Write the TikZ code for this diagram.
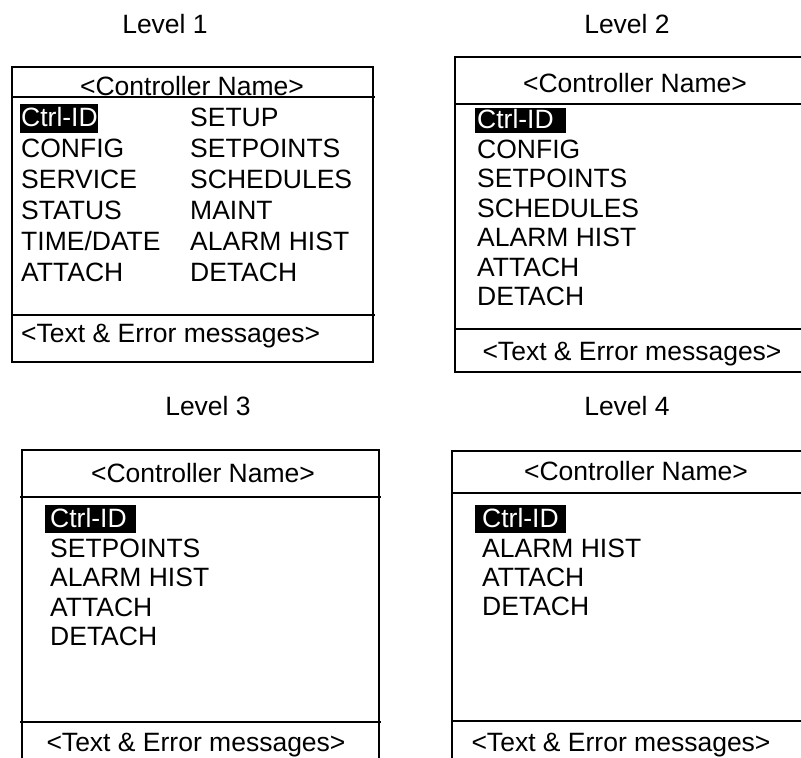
\documentclass[tikz,border=0pt]{standalone}
\usepackage{fontspec}
\setmainfont{Liberation Sans}
\begin{document}
\begin{tikzpicture}[x=1pt,y=-1pt,
  txt/.style={inner sep=0pt,anchor=base west,font=\fontsize{26.5}{30}\selectfont},
  ctxt/.style={inner sep=0pt,anchor=base,font=\fontsize{26.5}{30}\selectfont},
  hl/.style={txt,text=white},
  frame/.style={line width=2.2pt,line cap=rect},
  sep/.style={line width=1.5pt},
  hlbox/.style={fill=black,draw=none}]
\useasboundingbox (0,0) rectangle (801,758);

% ---------------- Level labels
\node[ctxt] (l1) at (165,33) {Level 1};
\node[ctxt] (l2) at (627,33) {Level 2};
\node[ctxt] (l3) at (208,415) {Level 3};
\node[ctxt] (l4) at (627,415) {Level 4};

% ---------------- Box 1
\draw[frame] (12,67) rectangle (373,362);
\draw[sep] (12,97) -- (375,97);
\draw[sep] (12,315) -- (375,315);
\node[ctxt] (b1h) at (192,95) {<Controller Name>};
\fill[hlbox] (20,104) rectangle (98,133);
\node[hl]  (b1a) at (21,126.5) {Ctrl-ID};
\node[txt] (b1b) at (21,157.5) {CONFIG};
\node[txt] (b1c) at (21,188.5) {SERVICE};
\node[txt] (b1d) at (21,219.5) {STATUS};
\node[txt] (b1e) at (21,250.5) {TIME/DATE};
\node[txt] (b1f) at (21,281.5) {ATTACH};
\node[txt] (b1g) at (190,126.5) {SETUP};
\node[txt] (b1h2) at (190,157.5) {SETPOINTS};
\node[txt] (b1i) at (190,188.5) {SCHEDULES};
\node[txt] (b1j) at (190,219.5) {MAINT};
\node[txt] (b1k) at (190,250.5) {ALARM HIST};
\node[txt] (b1l) at (190,281.5) {DETACH};
\node[txt] (b1m) at (21,342) {<Text \& Error messages>};

% ---------------- Box 2
\draw[frame] (801,57) -- (455,57) -- (455,372) -- (801,372);
\draw[sep] (455,104) -- (801,104);
\draw[sep] (455,329) -- (801,329);
\node[ctxt] (b2h) at (635,92) {<Controller Name>};
\fill[hlbox] (475,108) rectangle (566,133);
\node[hl]  (b2a) at (477,128) {Ctrl-ID};
\node[txt] (b2b) at (477,158) {CONFIG};
\node[txt] (b2c) at (477,187.5) {SETPOINTS};
\node[txt] (b2d) at (477,217) {SCHEDULES};
\node[txt] (b2e) at (477,246.5) {ALARM HIST};
\node[txt] (b2f) at (477,276) {ATTACH};
\node[txt] (b2g) at (477,305) {DETACH};
\node[ctxt] (b2m) at (632,360) {<Text \& Error messages>};

% ---------------- Box 3
\draw[frame] (22,758) -- (22,450) -- (379,450) -- (379,758);
\draw[sep] (20,497) -- (381,497);
\draw[sep] (20,722) -- (381,722);
\node[ctxt] (b3h) at (203,482) {<Controller Name>};
\fill[hlbox] (45,505) rectangle (136,533);
\node[hl]  (b3a) at (50,527) {Ctrl-ID};
\node[txt] (b3b) at (50,557) {SETPOINTS};
\node[txt] (b3c) at (50,586.5) {ALARM HIST};
\node[txt] (b3d) at (50,616) {ATTACH};
\node[txt] (b3e) at (50,645) {DETACH};
\node[ctxt] (b3m) at (196,751) {<Text \& Error messages>};

% ---------------- Box 4
\draw[frame] (452,758) -- (452,451) -- (801,451);
\draw[sep] (452,493) -- (801,493);
\draw[sep] (452,721) -- (801,721);
\node[ctxt] (b4h) at (636,480) {<Controller Name>};
\fill[hlbox] (475,505) rectangle (566,533);
\node[hl]  (b4a) at (482,527) {Ctrl-ID};
\node[txt] (b4b) at (482,557) {ALARM HIST};
\node[txt] (b4c) at (482,586.5) {ATTACH};
\node[txt] (b4d) at (482,615) {DETACH};
\node[ctxt] (b4m) at (621,751) {<Text \& Error messages>};
\end{tikzpicture}
\end{document}
